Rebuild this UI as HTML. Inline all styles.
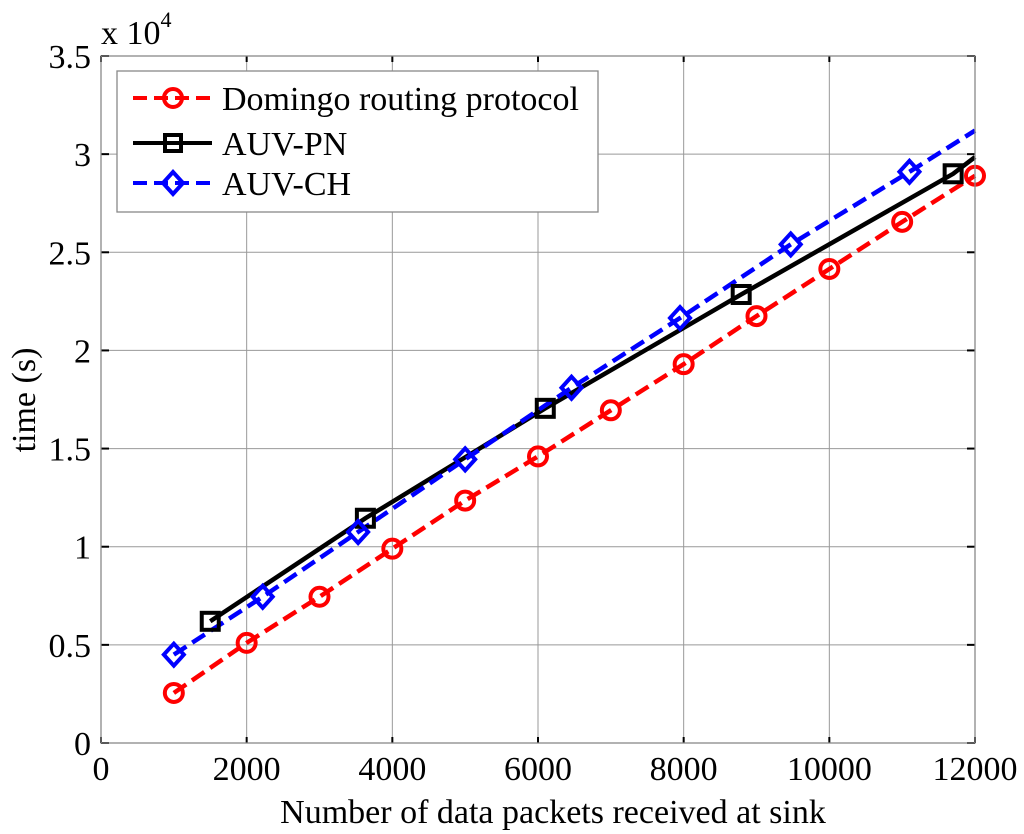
<!DOCTYPE html>
<html><head><meta charset="utf-8"><style>
html,body{margin:0;padding:0;background:#fff;}
svg{display:block;font-family:"Liberation Serif",serif;}
</style></head><body>
<svg id="chart" width="1024" height="834" viewBox="0 0 1024 834" xmlns="http://www.w3.org/2000/svg">
<rect x="0" y="0" width="1024" height="834" fill="#fff"/>
<g id="grid"></g>
<g id="ticks"></g>
<g id="series"></g>
<rect x="101" y="56" width="874" height="687" fill="none" stroke="#888" stroke-width="1.3"/>
<text x="101" y="44" font-size="34">x 10<tspan font-size="22" dy="-17">4</tspan></text>
<text x="553" y="823" font-size="34" text-anchor="middle">Number of data packets received at sink</text>
<text x="0" y="0" font-size="34" text-anchor="middle" transform="translate(35,400) rotate(-90)">time (s)</text>
<g>
<rect x="117" y="71" width="481" height="141" fill="#fff" stroke="#888" stroke-width="1.3"/>
<g>
<line x1="133" y1="98" x2="212" y2="98" stroke="#f00" stroke-width="4" stroke-dasharray="14,7"/>
<circle cx="173" cy="98" r="9" fill="none" stroke="#f00" stroke-width="4"/>
<text x="222" y="110" font-size="34">Domingo routing protocol</text></g>
<g>
<line x1="133" y1="143" x2="212" y2="143" stroke="#000" stroke-width="4"/>
<rect x="165" y="135" width="16" height="16" fill="none" stroke="#000" stroke-width="4"/>
<text x="222" y="155" font-size="34">AUV-PN</text></g>
<g>
<line x1="133" y1="183" x2="212" y2="183" stroke="#00f" stroke-width="4" stroke-dasharray="14,7"/>
<polygon points="173,172 183,183 173,194 163,183" fill="none" stroke="#00f" stroke-width="4"/>
<text x="222" y="195" font-size="34">AUV-CH</text></g>
</g>
</svg>
<script>
const xTicks=[0,2000,4000,6000,8000,10000,12000];
const yTicks=[0,0.5,1,1.5,2,2.5,3,3.5];
const yTickLabels=["0","0.5","1","1.5","2","2.5","3","3.5"];
const domingoX=[1000,2000,3000,4000,5000,6000,7000,8000,9000,10000,11000,12000];
const domingoY=[0.255,0.51,0.745,0.99,1.235,1.46,1.695,1.93,2.175,2.415,2.655,2.89];
const pnX=[1500,3630,6100,8790,11700];
const pnY=[0.62,1.145,1.705,2.285,2.9];
const pnLineEndX=12000, pnLineEndY=2.985;
const chX=[1000,2220,3530,5000,6460,7950,9470,11100];
const chY=[0.45,0.745,1.075,1.445,1.81,2.165,2.54,2.91];
const chLineEndX=12000, chLineEndY=3.12;

const NS="http://www.w3.org/2000/svg";
const L=101,R=975,T=56,B=743;
const sx=v=>L+(v/12000)*(R-L);
const sy=v=>B-(v/3.5)*(B-T);
function mk(tag,attrs,parent){const e=document.createElementNS(NS,tag);for(const k in attrs)e.setAttribute(k,attrs[k]);parent.appendChild(e);return e;}
const grid=document.getElementById('grid'),ticks=document.getElementById('ticks'),series=document.getElementById('series');
xTicks.forEach((v,i)=>{
  const x=sx(v);
  const g=mk('line',{x1:x,y1:T,x2:x,y2:B,stroke:'#999','stroke-width':1},grid);
  
  
  mk('line',{x1:x,y1:B,x2:x,y2:B-6,stroke:'#000','stroke-width':2},ticks);
  mk('line',{x1:x,y1:T,x2:x,y2:T+6,stroke:'#000','stroke-width':2},ticks);
  const t=mk('text',{x:x,y:B+37,'font-size':34,'text-anchor':'middle'},ticks);
  t.textContent=String(v);
  
  
});
yTicks.forEach((v,i)=>{
  const y=sy(v);
  const g=mk('line',{x1:L,y1:y,x2:R,y2:y,stroke:'#999','stroke-width':1},grid);
  
  
  mk('line',{x1:L,y1:y,x2:L+8,y2:y,stroke:'#000','stroke-width':2},ticks);
  mk('line',{x1:R,y1:y,x2:R-8,y2:y,stroke:'#000','stroke-width':2},ticks);
  const t=mk('text',{x:L-10,y:y+12,'font-size':34,'text-anchor':'end'},ticks);
  t.textContent=yTickLabels[i];
  
  
});
function pts(xs,ys){return xs.map((x,i)=>sx(x)+','+sy(ys[i])).join(' ');}
const l1=mk('polyline',{points:pts(domingoX,domingoY),fill:'none',stroke:'#f00','stroke-width':4.5,'stroke-dasharray':'15,7'},series);


const l2=mk('polyline',{points:pts(pnX.concat([pnLineEndX]),pnY.concat([pnLineEndY])),fill:'none',stroke:'#000','stroke-width':4.5},series);


const l3=mk('polyline',{points:pts(chX.concat([chLineEndX]),chY.concat([chLineEndY])),fill:'none',stroke:'#00f','stroke-width':4.5,'stroke-dasharray':'15,7'},series);


domingoX.forEach((x,i)=>{
  const c=mk('circle',{cx:sx(x),cy:sy(domingoY[i]),r:9,fill:'none',stroke:'#f00','stroke-width':4},series);
  
  
});
pnX.forEach((x,i)=>{
  const X=sx(x),Y=sy(pnY[i]);
  const r=mk('rect',{x:X-8.5,y:Y-8.5,width:17,height:17,fill:'none',stroke:'#000','stroke-width':4},series);
  
  
});
chX.forEach((x,i)=>{
  const X=sx(x),Y=sy(chY[i]);
  const p=mk('polygon',{points:`${X},${Y-11} ${X+10},${Y} ${X},${Y+11} ${X-10},${Y}`,fill:'none',stroke:'#00f','stroke-width':4},series);
  
  
});
</script>
</body></html>
